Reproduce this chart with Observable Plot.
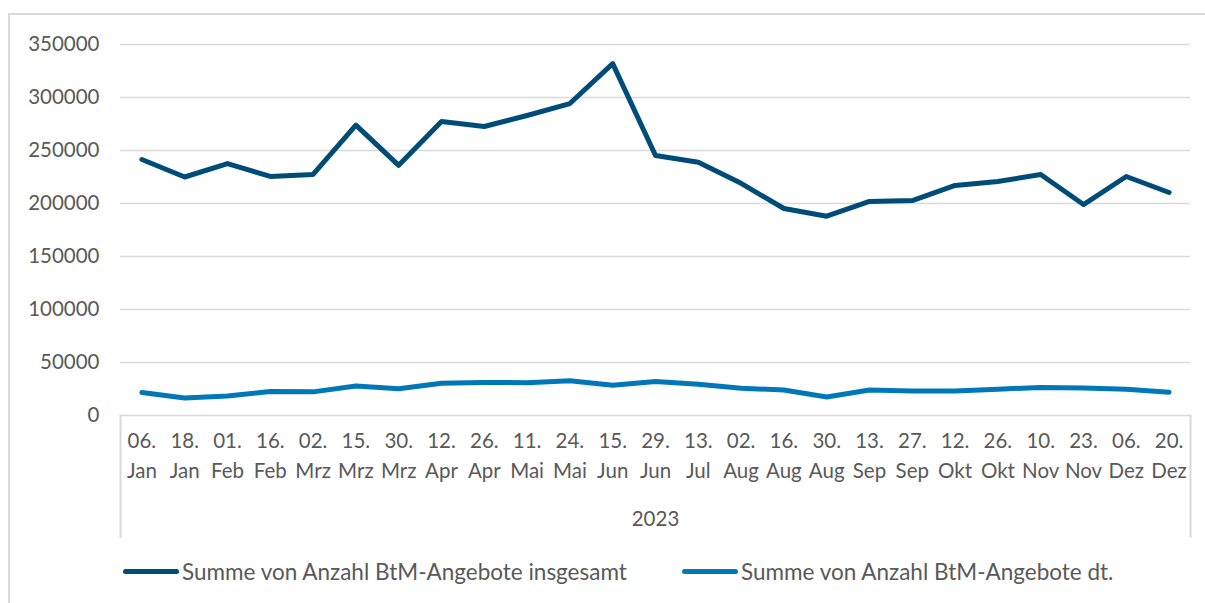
<!DOCTYPE html>
<html>
<head>
<meta charset="utf-8">
<script src="https://cdn.jsdelivr.net/npm/d3@7"></script>
<script src="https://cdn.jsdelivr.net/npm/@observablehq/plot@0.6"></script>
<style>
  body { margin: 0; background: #fff; font-family: Lato, "Open Sans", sans-serif; }
  #wrap { position: relative; width: 1205px; height: 603px; overflow: hidden; background: #fff; }
  #border { position: absolute; left: 8px; top: 13px; width: 1220px; height: 620px; border: 2px solid #d9d9d9; box-sizing: border-box; }
  #chart { position: absolute; left: 0; top: 0; }
  #legend { position: absolute; left: 0; top: 556px; width: 1205px; height: 30px; color: #595959; font-size: 22.5px; }
  .item { position: absolute; top: 0; display: flex; align-items: center; height: 30px; }
  .sw { width: 56px; height: 5px; border-radius: 3px; margin-right: 3px; }
</style>
</head>
<body>
<div id="wrap">
  <div id="border"></div>
  <div id="chart"></div>
  <div id="legend"></div>
</div>
<script>
const days = ["06.","18.","01.","16.","02.","15.","30.","12.","26.","11.","24.","15.","29.","13.","02.","16.","30.","13.","27.","12.","26.","10.","23.","06.","20."];
const months = ["Jan","Jan","Feb","Feb","Mrz","Mrz","Mrz","Apr","Apr","Mai","Mai","Jun","Jun","Jul","Aug","Aug","Aug","Sep","Sep","Okt","Okt","Nov","Nov","Dez","Dez"];
const total = [241500,225000,237700,225500,227400,274000,236000,277400,272600,283000,294300,332000,245300,239000,219000,195300,188000,201900,202800,217000,220800,227400,199000,225500,210400];
const german = [21700,16500,18500,22600,22300,27800,25200,30500,31200,31000,32800,28500,32000,29500,25800,24000,17500,24000,23200,23200,24800,26500,26000,24800,22000];
const yTicks = [0,50000,100000,150000,200000,250000,300000,350000];
const yearLabel = ["2023"];
const seriesNames = ["Summe von Anzahl BtM-Angebote insgesamt", "Summe von Anzahl BtM-Angebote dt."];
const colors = ["#004c79", "#0078b8"];

const keys = days.map((d, i) => i);
const rows = [];
keys.forEach(i => {
  rows.push({k: i, v: total[i], s: seriesNames[0]});
  rows.push({k: i, v: german[i], s: seriesNames[1]});
});

const grey = "#595959";
const fs = 20.5;
const chart = Plot.plot({
  width: 1205,
  height: 548,
  marginLeft: 120,
  marginRight: 15,
  marginTop: 44,
  marginBottom: 133,
  style: {fontFamily: "Lato, 'Open Sans', sans-serif", fontSize: "20px", color: grey, background: "transparent", overflow: "visible"},
  x: {type: "band", domain: keys, padding: 0, round: false, axis: null},
  y: {domain: [0, 350000], axis: null},
  color: {domain: seriesNames, range: colors},
  marks: [
    Plot.ruleY(yTicks, {y: d => d, stroke: "#d9d9d9", strokeWidth: 1.6}),
    Plot.text(yTicks, {y: d => d, text: d => String(d), frameAnchor: "left", textAnchor: "end", dx: -21, fill: grey, fontSize: fs}),
    Plot.frame({anchor: "left", insetTop: 371, insetBottom: -121, stroke: "#d9d9d9", strokeWidth: 2}),
    Plot.frame({anchor: "right", insetTop: 371, insetBottom: -121, stroke: "#d9d9d9", strokeWidth: 2}),
    Plot.text(keys, {x: d => d, text: d => days[d], frameAnchor: "bottom", dy: 32, fill: grey, fontSize: fs}),
    Plot.text(keys, {x: d => d, text: d => months[d], frameAnchor: "bottom", dy: 62, fill: grey, fontSize: fs}),
    Plot.text(yearLabel, {text: d => d, frameAnchor: "bottom", dy: 110, fill: grey, fontSize: fs}),
    Plot.line(rows, {x: "k", y: "v", z: "s", stroke: "s", strokeWidth: 5, strokeLinejoin: "round", strokeLinecap: "round"})
  ]
});
document.getElementById("chart").appendChild(chart);

const legend = document.getElementById("legend");
const lefts = [123, 682];
seriesNames.forEach((name, i) => {
  const item = document.createElement("div");
  item.className = "item";
  item.style.left = lefts[i] + "px";
  const sw = document.createElement("div");
  sw.className = "sw";
  sw.style.background = colors[i];
  const t = document.createElement("span");
  t.textContent = name;
  item.appendChild(sw);
  item.appendChild(t);
  legend.appendChild(item);
});
</script>
</body>
</html>
